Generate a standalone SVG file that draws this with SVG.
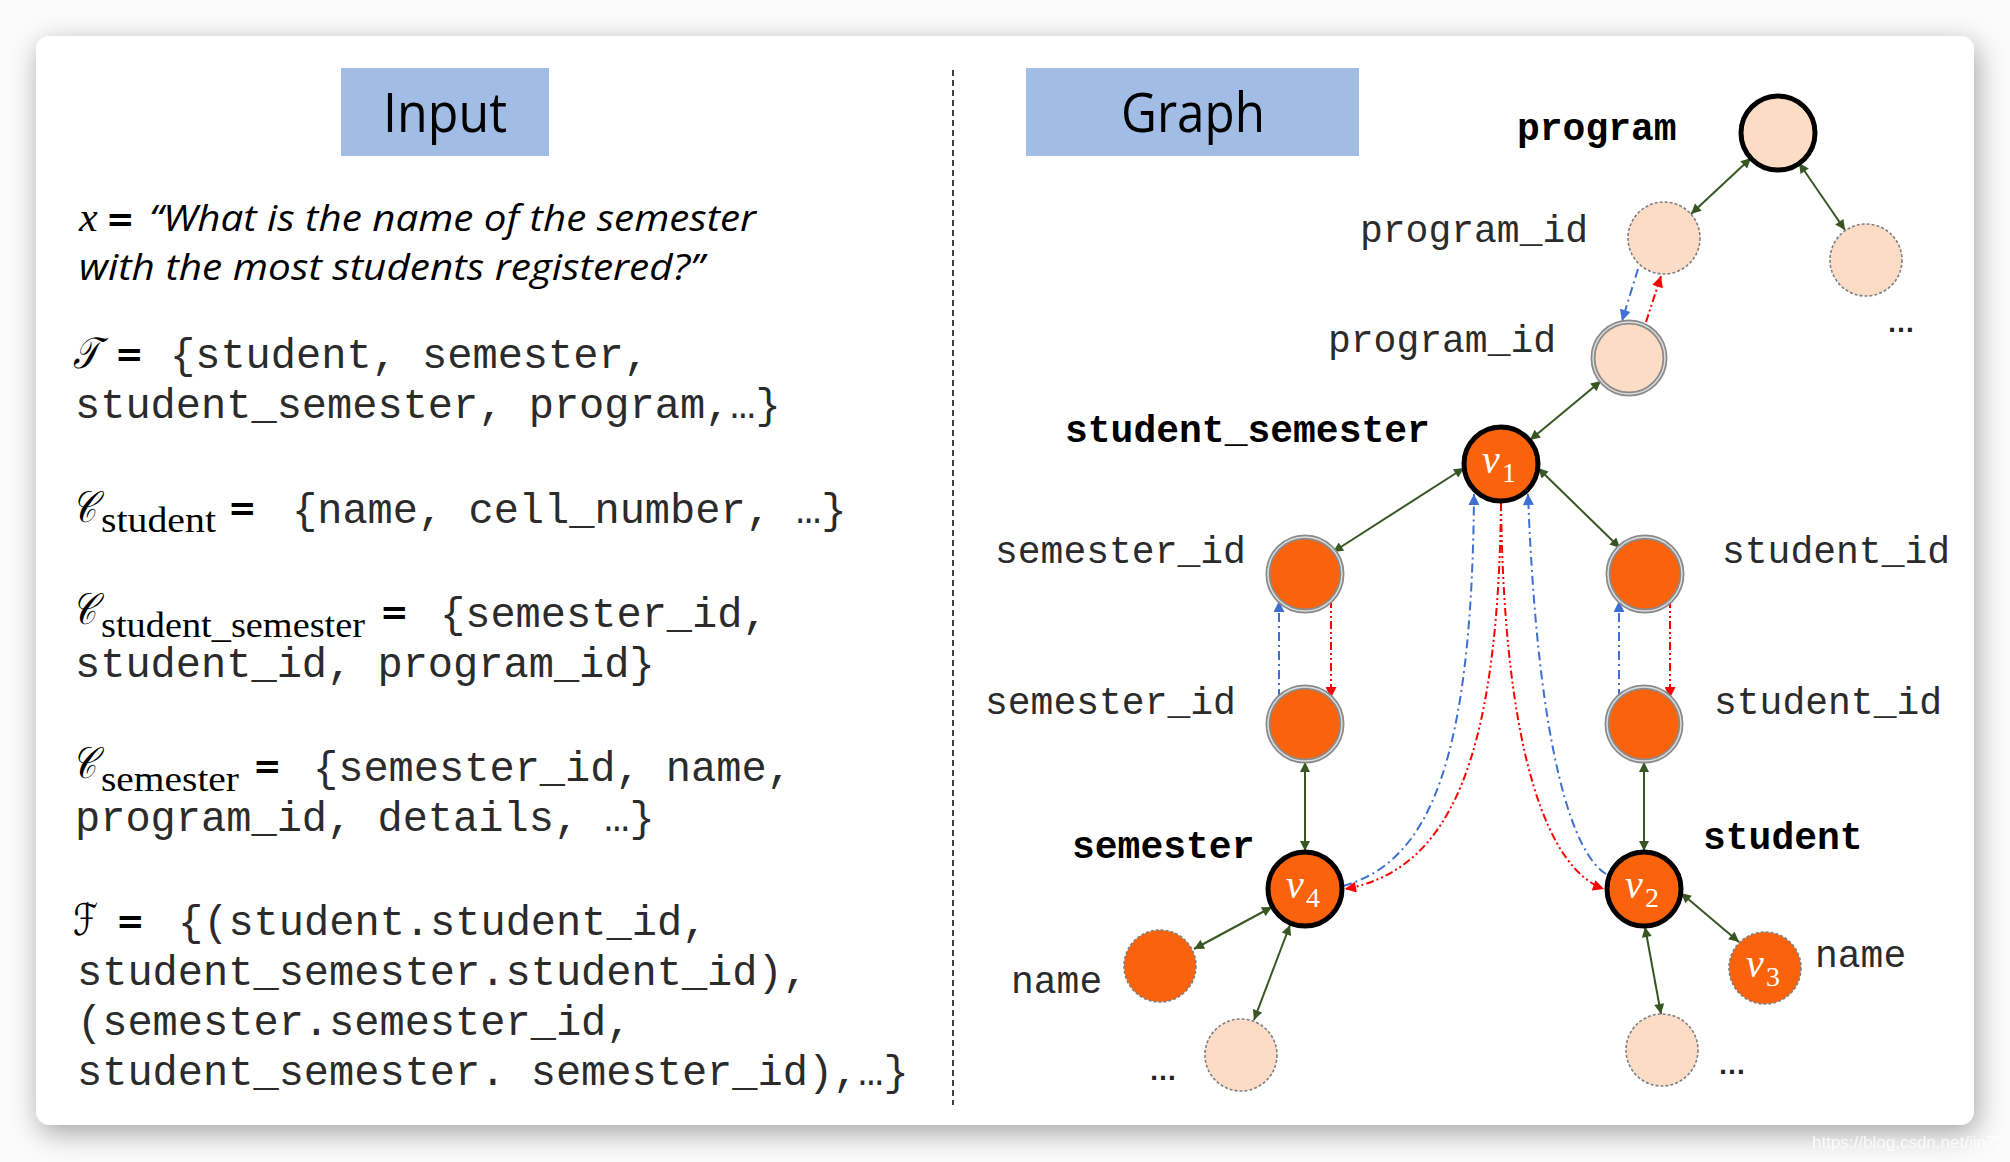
<svg xmlns="http://www.w3.org/2000/svg" width="2010" height="1162" viewBox="0 0 2010 1162">
<defs>
  <filter id="shadow" x="-5%" y="-5%" width="110%" height="115%">
    <feDropShadow dx="3" dy="8" stdDeviation="14" flood-color="#000" flood-opacity="0.35"/>
  </filter>
  <marker id="ag" viewBox="0 0 10 10" refX="10" refY="5" markerWidth="12" markerHeight="10" markerUnits="userSpaceOnUse" orient="auto-start-reverse">
    <path d="M0,0 L10,5 L0,10 z" fill="#375623"/>
  </marker>
  <marker id="ab" viewBox="0 0 10 10" refX="10" refY="5" markerWidth="13" markerHeight="11" markerUnits="userSpaceOnUse" orient="auto">
    <path d="M0,0 L10,5 L0,10 z" fill="#3f6fd0"/>
  </marker>
  <marker id="ar" viewBox="0 0 10 10" refX="10" refY="5" markerWidth="13" markerHeight="11" markerUnits="userSpaceOnUse" orient="auto">
    <path d="M0,0 L10,5 L0,10 z" fill="#ff0000"/>
  </marker>
  <style>
    .mono { font-family: "Liberation Mono", "DejaVu Sans Mono", monospace; font-size: 42px; fill: #2b2b2b; }
    .lbl { font-family: "Liberation Mono", "DejaVu Sans Mono", monospace; font-size: 38px; fill: #2b2b2b; }
    .lblb { font-family: "Liberation Mono", "DejaVu Sans Mono", monospace; font-size: 38px; font-weight: bold; fill: #000; }
    .q { font-family: "Open Sans", "Noto Sans", sans-serif; font-style: italic; font-size: 36px; fill: #000; }
    .cal { font-family: "DejaVu Serif", "DejaVu Sans", "Liberation Serif", serif; font-style: italic; font-size: 44px; fill: #000; }
    .sub { font-family: "Liberation Serif", serif; font-size: 36px; fill: #000; }
    .eq { font-family: "DejaVu Sans", sans-serif; font-size: 34px; font-weight: bold; fill: #000; }
    .title { font-family: "Open Sans", "Noto Sans", sans-serif; font-size: 54px; fill: #000; }
    .tbox { fill: #a1bde5; }
    .vv { font-family: "Liberation Serif", serif; font-style: italic; font-size: 40px; fill: #fff; }
    .vs { font-family: "Liberation Serif", serif; font-size: 28px; fill: #fff; }
    .dots { font-family: "Liberation Sans", sans-serif; font-weight: bold; font-size: 28px; fill: #222; }
    .key { fill: #fa630c; stroke: #000; stroke-width: 5; }
    .keyp { fill: #fddcc6; stroke: #000; stroke-width: 5; }
    .dsh { stroke: #7f7f7f; stroke-width: 1.6; stroke-dasharray: 3 2; }
    .o { fill: #fa630c; }
    .p { fill: #fddcc6; }
    .dbl { fill: none; stroke: #8a8a8a; stroke-width: 5; }
    .dbli { fill: none; stroke: #dcdcdc; stroke-width: 1.5; }
    .ge { stroke: #375623; stroke-width: 2; fill: none; marker-start: url(#ag); marker-end: url(#ag); }
    .be { stroke: #3f6fd0; stroke-width: 2; fill: none; stroke-dasharray: 9 4 2 4; marker-end: url(#ab); }
    .re { stroke: #ff0000; stroke-width: 2; fill: none; stroke-dasharray: 8 3 2 3 2 3; marker-end: url(#ar); }
  </style>
</defs>

<rect x="0" y="0" width="2010" height="1162" fill="#fbfbfb"/>
<rect id="card" x="36" y="36" width="1938" height="1089" rx="14" ry="14" fill="#ffffff" filter="url(#shadow)"/>

<!-- divider -->
<line x1="953" y1="70" x2="953" y2="1105" stroke="#000" stroke-width="1.5" stroke-dasharray="6 4"/>

<!-- Input panel -->
<g id="input-title">
  <rect class="tbox" x="341" y="68" width="208" height="88"/>
  <text class="title" x="383" y="132" textLength="124" lengthAdjust="spacingAndGlyphs">Input</text>
</g>

<g id="question">
  <text class="cal" x="79" y="231" style="font-family:'Liberation Serif',serif;font-size:42px">x</text>
  <text class="eq" x="106" y="231" font-size="40">=</text>
  <text class="q" x="149" y="231" textLength="607" lengthAdjust="spacingAndGlyphs">“What is the name of the semester</text>
  <text class="q" x="79" y="280" textLength="625" lengthAdjust="spacingAndGlyphs">with the most students registered?”</text>
</g>

<g id="tables">
  <text class="cal" x="73" y="368" textLength="26" lengthAdjust="spacingAndGlyphs">𝒯</text>
  <text class="eq" x="115" y="366">=</text>
  <text class="mono" x="170" y="368">{student, semester,</text>
  <text class="mono" x="75" y="418">student_semester, program,…}</text>
</g>

<g id="c-student">
  <text class="cal" x="72" y="522" textLength="24" lengthAdjust="spacingAndGlyphs">𝒞</text>
  <text class="sub" x="101" y="532" textLength="115" lengthAdjust="spacingAndGlyphs">student</text>
  <text class="eq" x="228" y="520">=</text>
  <text class="mono" x="292" y="523">{name, cell_number, …}</text>
</g>

<g id="c-student-semester">
  <text class="cal" x="72" y="624" textLength="24" lengthAdjust="spacingAndGlyphs">𝒞</text>
  <text class="sub" x="101" y="637" textLength="264" lengthAdjust="spacingAndGlyphs">student_semester</text>
  <text class="eq" x="380" y="624">=</text>
  <text class="mono" x="440" y="627">{semester_id,</text>
  <text class="mono" x="75" y="677">student_id, program_id}</text>
</g>

<g id="c-semester">
  <text class="cal" x="72" y="778" textLength="24" lengthAdjust="spacingAndGlyphs">𝒞</text>
  <text class="sub" x="101" y="791" textLength="138" lengthAdjust="spacingAndGlyphs">semester</text>
  <text class="eq" x="253" y="778">=</text>
  <text class="mono" x="313" y="781">{semester_id, name,</text>
  <text class="mono" x="75" y="831">program_id, details, …}</text>
</g>

<g id="foreign-keys">
  <text class="cal" x="73" y="935" textLength="25" lengthAdjust="spacingAndGlyphs">ℱ</text>
  <text class="eq" x="116" y="933">=</text>
  <text class="mono" x="178" y="935">{(student.student_id,</text>
  <text class="mono" x="77" y="985">student_semester.student_id),</text>
  <text class="mono" x="77" y="1035">(semester.semester_id,</text>
  <text class="mono" x="77" y="1085">student_semester. semester_id),…}</text>
</g>

<!-- Graph panel -->
<g id="graph-title">
  <rect class="tbox" x="1026" y="68" width="333" height="88"/>
  <text class="title" x="1121" y="132" textLength="144" lengthAdjust="spacingAndGlyphs">Graph</text>
</g>

<g id="connectors">
  <line class="ge" x1="1751" y1="158" x2="1691" y2="214"/>
  <line class="ge" x1="1799" y1="163" x2="1845" y2="230"/>
  <line class="ge" x1="1601" y1="381" x2="1530" y2="440"/>
  <line class="ge" x1="1464" y1="468" x2="1333" y2="552"/>
  <line class="ge" x1="1538" y1="468" x2="1620" y2="548"/>
  <line class="ge" x1="1305" y1="762" x2="1305" y2="851"/>
  <line class="ge" x1="1644" y1="762" x2="1644" y2="851"/>
  <line class="ge" x1="1272" y1="907" x2="1194" y2="949"/>
  <line class="ge" x1="1290" y1="925" x2="1254" y2="1020"/>
  <line class="ge" x1="1681" y1="893" x2="1739" y2="942"/>
  <line class="ge" x1="1645" y1="927" x2="1661" y2="1014"/>

  <line class="be" x1="1638" y1="269" x2="1622" y2="321"/>
  <line class="re" x1="1646" y1="322" x2="1661" y2="276"/>
  <line class="be" x1="1279" y1="698" x2="1279" y2="601"/>
  <line class="re" x1="1331" y1="600" x2="1331" y2="698"/>
  <line class="be" x1="1619" y1="698" x2="1619" y2="601"/>
  <line class="re" x1="1670" y1="600" x2="1670" y2="698"/>

  <path class="be" d="M1343,886 C1430,862 1472,760 1474,494"/>
  <path class="re" d="M1501,503 C1498,760 1450,870 1345,889"/>
  <path class="re" d="M1501,503 C1504,760 1550,870 1604,889"/>
  <path class="be" d="M1606,874 C1575,855 1538,760 1528,494"/>
</g>

<g id="node-program">
  <circle class="keyp" cx="1778" cy="133" r="37"/>
  <text class="lblb" x="1517" y="140">program</text>
</g>
<g id="node-program-id-1">
  <circle class="p dsh" cx="1664" cy="238" r="36"/>
  <text class="lbl" x="1360" y="242">program_id</text>
</g>
<g id="node-program-other">
  <circle class="p dsh" cx="1866" cy="260" r="36"/>
  <text class="dots" x="1887" y="332">…</text>
</g>
<g id="node-program-id-2">
  <circle class="p" cx="1629" cy="358" r="36"/>
  <circle class="dbl" cx="1629" cy="358" r="36"/>
  <circle class="dbli" cx="1629" cy="358" r="36"/>
  <text class="lbl" x="1328" y="352">program_id</text>
</g>
<g id="node-v1">
  <circle class="key" cx="1501" cy="464" r="37"/>
  <text class="vv" x="1482" y="473">v</text>
  <text class="vs" x="1502" y="482">1</text>
  <text class="lblb" x="1065" y="442">student_semester</text>
</g>
<g id="node-ss-semester-id">
  <circle class="o" cx="1305" cy="574" r="37"/>
  <circle class="dbl" cx="1305" cy="574" r="37"/>
  <circle class="dbli" cx="1305" cy="574" r="37"/>
  <text class="lbl" x="995" y="563">semester_id</text>
</g>
<g id="node-ss-student-id">
  <circle class="o" cx="1645" cy="574" r="37"/>
  <circle class="dbl" cx="1645" cy="574" r="37"/>
  <circle class="dbli" cx="1645" cy="574" r="37"/>
  <text class="lbl" x="1722" y="563">student_id</text>
</g>
<g id="node-semester-id">
  <circle class="o" cx="1305" cy="724" r="37"/>
  <circle class="dbl" cx="1305" cy="724" r="37"/>
  <circle class="dbli" cx="1305" cy="724" r="37"/>
  <text class="lbl" x="985" y="714">semester_id</text>
</g>
<g id="node-student-id">
  <circle class="o" cx="1644" cy="724" r="37"/>
  <circle class="dbl" cx="1644" cy="724" r="37"/>
  <circle class="dbli" cx="1644" cy="724" r="37"/>
  <text class="lbl" x="1714" y="714">student_id</text>
</g>
<g id="node-v4">
  <circle class="key" cx="1305" cy="889" r="37"/>
  <text class="vv" x="1286" y="898">v</text>
  <text class="vs" x="1306" y="907">4</text>
  <text class="lblb" x="1072" y="858">semester</text>
</g>
<g id="node-v2">
  <circle class="key" cx="1644" cy="889" r="37"/>
  <text class="vv" x="1625" y="898">v</text>
  <text class="vs" x="1645" y="907">2</text>
  <text class="lblb" x="1703" y="849">student</text>
</g>
<g id="node-semester-name">
  <circle class="o dsh" cx="1160" cy="966" r="36"/>
  <text class="lbl" x="1011" y="993">name</text>
</g>
<g id="node-semester-other">
  <circle class="p dsh" cx="1241" cy="1055" r="36"/>
  <text class="dots" x="1149" y="1080">…</text>
</g>
<g id="node-v3">
  <circle class="o dsh" cx="1765" cy="968" r="36"/>
  <text class="vv" x="1746" y="977">v</text>
  <text class="vs" x="1766" y="986">3</text>
  <text class="lbl" x="1815" y="967">name</text>
</g>
<g id="node-student-other">
  <circle class="p dsh" cx="1662" cy="1050" r="36"/>
  <text class="dots" x="1718" y="1074">…</text>
</g>

<text x="1812" y="1148" font-family="Liberation Sans, sans-serif" font-size="17" fill="#ffffff" fill-opacity="0.85">https://blog.csdn.net/jin72</text>
</svg>
